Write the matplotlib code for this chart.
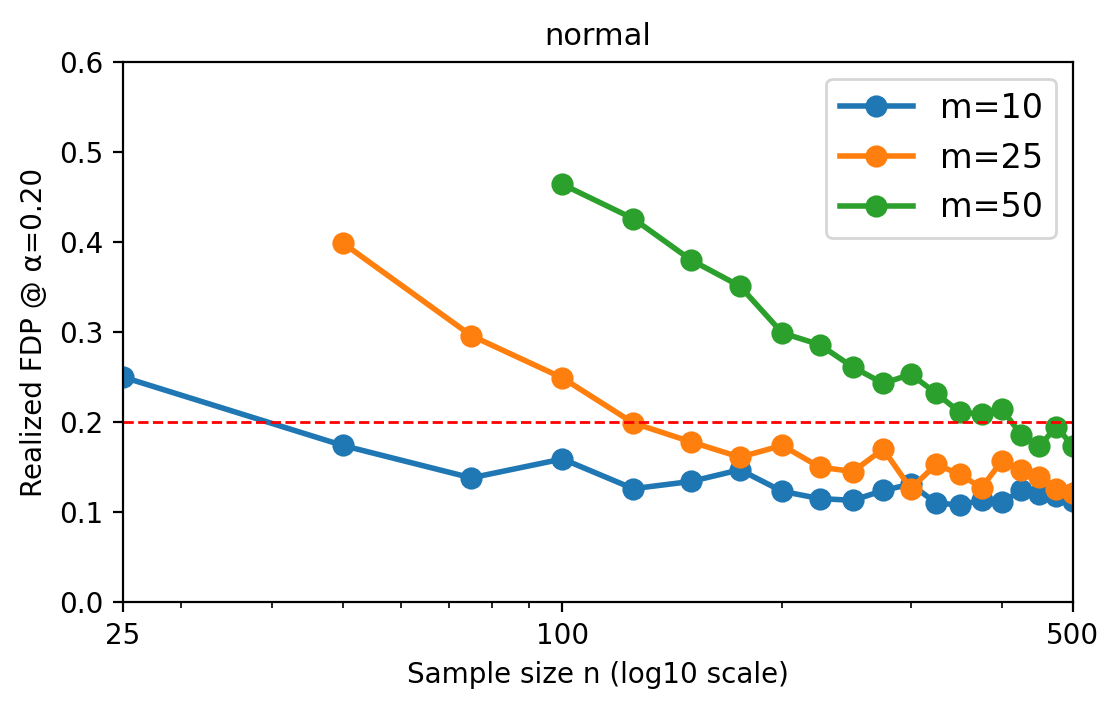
import matplotlib
matplotlib.use("Agg")
import matplotlib.pyplot as plt
from matplotlib import ticker

# sample sizes (n) and realized FDP per number of tests m
n_m10 = [25, 50, 75, 100, 125, 150, 175, 200, 225, 250, 275, 300, 325, 350,
         375, 400, 425, 450, 475, 500]
fdp_m10 = [0.250, 0.174, 0.138, 0.159, 0.126, 0.134, 0.147, 0.123, 0.115, 0.113,
           0.124, 0.131, 0.110, 0.108, 0.113, 0.111, 0.124, 0.120, 0.118, 0.112]

n_m25 = [50, 75, 100, 125, 150, 175, 200, 225, 250, 275, 300, 325, 350, 375,
         400, 425, 450, 475, 500]
fdp_m25 = [0.399, 0.296, 0.249, 0.199, 0.178, 0.161, 0.174, 0.150, 0.145, 0.170,
           0.126, 0.153, 0.142, 0.127, 0.157, 0.147, 0.139, 0.126, 0.121]

n_m50 = [100, 125, 150, 175, 200, 225, 250, 275, 300, 325, 350, 375, 400, 425,
         450, 475, 500]
fdp_m50 = [0.464, 0.426, 0.380, 0.351, 0.299, 0.286, 0.261, 0.243, 0.253, 0.232,
           0.211, 0.209, 0.214, 0.186, 0.173, 0.195, 0.173]

alpha = 0.20
xticks = [25, 100, 500]


def main():
    fig = plt.figure(figsize=(5.6, 3.55), dpi=200)
    ax = fig.add_axes([0.1098, 0.152, 0.848, 0.7607])

    ax.plot(n_m10, fdp_m10, marker="o", markersize=7, linewidth=2, label="m=10")
    ax.plot(n_m25, fdp_m25, marker="o", markersize=7, linewidth=2, label="m=25")
    ax.plot(n_m50, fdp_m50, marker="o", markersize=7, linewidth=2, label="m=50")
    ax.axhline(alpha, color="red", linestyle="--", linewidth=1)

    ax.set_xscale("log")
    ax.set_xlim(25, 500)
    ax.set_ylim(0, 0.6)
    ax.set_xticks(xticks)
    ax.xaxis.set_major_formatter(ticker.FixedFormatter([str(t) for t in xticks]))
    ax.xaxis.set_minor_formatter(ticker.NullFormatter())
    ax.tick_params(labelsize=10)

    ax.set_xlabel("Sample size n (log10 scale)", fontsize=10)
    ax.set_ylabel("Realized FDP @ α=0.20", fontsize=10)
    ax.set_title("normal", fontsize=11)
    ax.legend(loc="upper right", fontsize=12, handlelength=2.2)

    fig.savefig("out.png", dpi=200)


if __name__ == "__main__":
    main()
